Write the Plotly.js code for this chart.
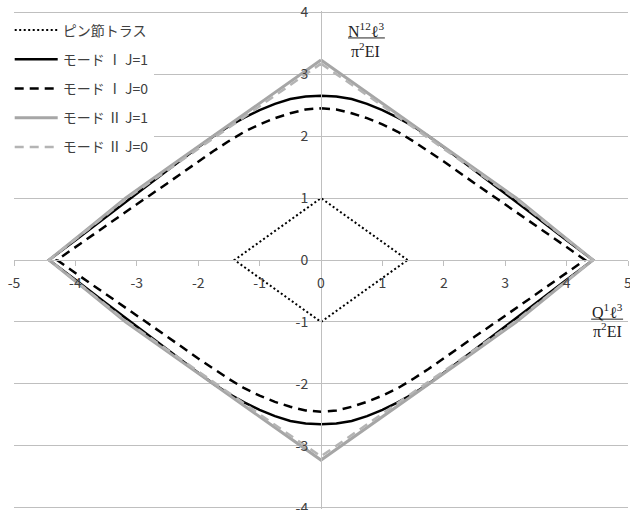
<!DOCTYPE html>
<html>
<head>
<meta charset="utf-8">
<script src="https://cdn.plot.ly/plotly-3.0.1.min.js"></script>
<style>
  html, body { margin: 0; padding: 0; background: #ffffff; }
  #chart { width: 630px; height: 510px; }
</style>
</head>
<body>
<div id="chart"></div>
<script>
// Interaction curves (first quadrant, from the top of the curve to its corner on the x axis)
const seriesNames = ["ピン節トラス", "モード Ⅰ J=1", "モード Ⅰ J=0", "モード Ⅱ J=1", "モード Ⅱ J=0"];

const pinX = [1.41, 0, -1.41, 0, 1.41];
const pinY = [0, 1, 0, -1, 0];

const mode1J1X = [0, 0.25, 0.5, 0.75, 1.0, 1.25, 1.5, 1.75, 2.0, 2.5, 3.0, 3.5, 4.0, 4.43];
const mode1J1Y = [2.65, 2.64, 2.6, 2.52, 2.42, 2.3, 2.16, 2.0, 1.82, 1.45, 1.07, 0.7, 0.32, 0];

const mode1J0X = [0, 0.25, 0.5, 0.75, 1.0, 1.25, 1.5, 1.75, 2.0, 2.5, 3.0, 3.5, 4.0, 4.3];
const mode1J0Y = [2.45, 2.43, 2.37, 2.29, 2.19, 2.07, 1.92, 1.76, 1.59, 1.24, 0.9, 0.55, 0.21, 0];

const mode2J1X = [0, 0.9, 1.76, 2.5, 3.18, 3.8, 4.43];
const mode2J1Y = [3.23, 2.6, 2.0, 1.48, 1.0, 0.5, 0];

const mode2J0X = [0, 0.9, 1.76, 2.5, 3.18, 3.8, 4.43];
const mode2J0Y = [3.17, 2.56, 1.96, 1.45, 0.98, 0.49, 0];

const xTicks = [-5, -4, -3, -2, -1, 0, 1, 2, 3, 4, 5];
const yTicks = [-4, -3, -2, -1, 0, 1, 2, 3, 4];

// Each curve is symmetric about both axes: build the closed loop from its quadrant.
function closedLoop(qx, qy) {
  const xs = [], ys = [];
  const n = qx.length;
  for (let i = 0; i < n; i++) { xs.push(qx[i]); ys.push(qy[i]); }
  for (let i = n - 2; i >= 0; i--) { xs.push(qx[i]); ys.push(-qy[i]); }
  for (let i = 1; i < n; i++) { xs.push(-qx[i]); ys.push(-qy[i]); }
  for (let i = n - 2; i >= 0; i--) { xs.push(-qx[i]); ys.push(qy[i]); }
  return { x: xs, y: ys };
}

const m1a = closedLoop(mode1J1X, mode1J1Y);
const m1b = closedLoop(mode1J0X, mode1J0Y);
const m2a = closedLoop(mode2J1X, mode2J1Y);
const m2b = closedLoop(mode2J0X, mode2J0Y);

const traces = [
  { x: pinX, y: pinY, name: seriesNames[0], legendgroup: "g0",
    line: { color: "#000000", width: 2, dash: "2px,2.5px" } },
  { x: m1a.x, y: m1a.y, name: seriesNames[1], legendgroup: "g1",
    line: { color: "#000000", width: 2.5 } },
  { x: m1b.x, y: m1b.y, name: seriesNames[2], legendgroup: "g2",
    line: { color: "#000000", width: 2.5, dash: "9px,6px" } },
  { x: m2a.x, y: m2a.y, name: seriesNames[3], legendgroup: "g3",
    line: { color: "#a6a6a6", width: 3 } },
  { x: m2b.x, y: m2b.y, name: seriesNames[4], legendgroup: "g4",
    line: { color: "#b4b4b4", width: 2.5, dash: "9px,6px" } }
].map(t => Object.assign({ type: "scatter", mode: "lines", hoverinfo: "skip" }, t));

const tickFont = { family: "Noto Sans CJK JP, Noto Sans, sans-serif", size: 14, color: "#404040" };
const titleFont = { family: "Liberation Serif, DejaVu Serif, serif", size: 16, color: "#222222" };
const gridGray = "#bfbfbf";

const layout = {
  width: 630,
  height: 510,
  margin: { l: 14, r: 2, t: 11, b: 1, pad: 0 },
  paper_bgcolor: "#ffffff",
  plot_bgcolor: "#ffffff",
  showlegend: true,
  legend: {
    x: -0.007, y: 0.993, xanchor: "left", yanchor: "top",
    bgcolor: "#ffffff", borderwidth: 0,
    font: { family: "Noto Sans CJK JP, Noto Sans, sans-serif", size: 14, color: "#404040" },
    tracegroupgap: 8,
    itemwidth: 43
  },
  xaxis: {
    range: [-5, 5],
    anchor: "free", position: 0.5,
    showline: true, linecolor: gridGray, linewidth: 1,
    showgrid: false, zeroline: false,
    ticks: "outside", ticklen: 5, tickcolor: gridGray, tickwidth: 1,
    tickvals: xTicks, ticktext: xTicks.map(String),
    tickfont: tickFont, ticklabelstandoff: 5, ticklabeloverflow: "allow",
    fixedrange: true
  },
  yaxis: {
    // a hair of headroom so the ±4 gridlines are kept at the plot edges
    range: [-4.02, 4.02],
    anchor: "free", position: 0.5,
    showline: true, linecolor: gridGray, linewidth: 1,
    showgrid: true, gridcolor: gridGray, gridwidth: 1,
    zeroline: false,
    ticks: "outside", ticklen: 5, tickcolor: gridGray, tickwidth: 1,
    tickvals: yTicks, ticktext: yTicks.map(String),
    tickfont: tickFont, ticklabelstandoff: 5, ticklabeloverflow: "allow",
    fixedrange: true
  },
  annotations: [
    { x: 0.73, y: 3.71, xref: "x", yref: "y", text: "N<sup>12</sup>ℓ<sup>3</sup>",
      showarrow: false, font: titleFont, xanchor: "center", yanchor: "middle" },
    { x: 0.73, y: 3.39, xref: "x", yref: "y", text: "π<sup>2</sup>EI",
      showarrow: false, font: titleFont, xanchor: "center", yanchor: "middle" },
    { x: 4.66, y: -0.83, xref: "x", yref: "y", text: "Q<sup>1</sup>ℓ<sup>3</sup>",
      showarrow: false, font: titleFont, xanchor: "center", yanchor: "middle" },
    { x: 4.66, y: -1.13, xref: "x", yref: "y", text: "π<sup>2</sup>EI",
      showarrow: false, font: titleFont, xanchor: "center", yanchor: "middle" }
  ],
  shapes: [
    { type: "line", xref: "x", yref: "y", x0: 0.44, x1: 1.04, y0: 3.585, y1: 3.585,
      line: { color: "#222222", width: 1 } },
    { type: "line", xref: "x", yref: "y", x0: 4.40, x1: 4.92, y0: -0.955, y1: -0.955,
      line: { color: "#222222", width: 1 } }
  ]
};

Plotly.newPlot("chart", traces, layout, { staticPlot: true, displayModeBar: false });
</script>
</body>
</html>
